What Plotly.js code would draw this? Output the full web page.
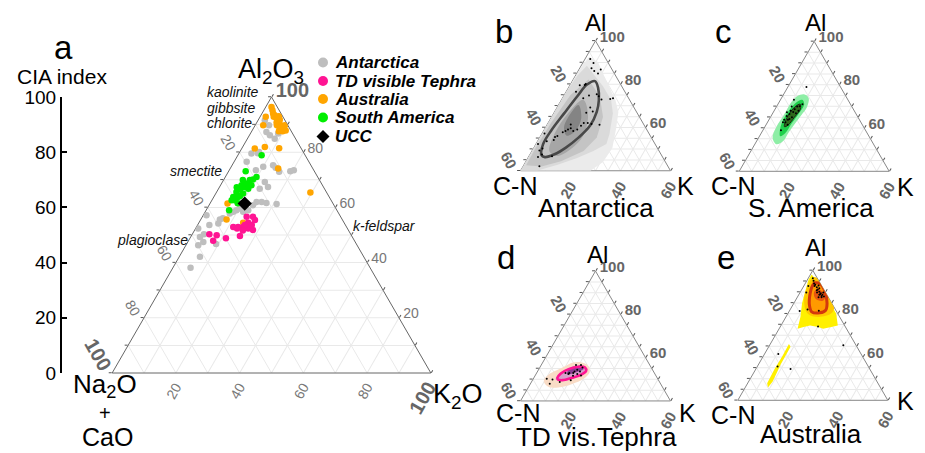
<!DOCTYPE html>
<html><head><meta charset="utf-8">
<script src="https://cdn.plot.ly/plotly-3.0.1.min.js"></script>
<style>html,body{margin:0;padding:0;background:#fff}#chart{width:925px;height:453px}</style>
</head><body><div id="chart"></div>
<script>
// ---------- DATA (ternary %: Al = Al2O3, CN = Na2O+CaO, K = K2O) ----------
const antAl = [91.6,89.8,87.3,86.1,84.9,86.8,80.1,79.5,76.5,73.5,74.7,75.3,74.4,72.9,73.1,73.5,69.2,67.4,66.8,62.0,62.0,61.6,61.2,60.8,59.0,61.4,59.0,58.4,57.8,57.2,55.6,54.2,56.1,53.6,52.4,50.3,49.3,47.5,46.3,46.7,42.1,38.1,79.6,59.6,58.4];
const antCN = [6.3,5.9,7.95,7.45,6.55,4.5,13.85,16.55,19.55,18.15,15.25,11.85,11.5,11.15,7.55,6.25,17.5,17.4,20.3,23.7,22.1,20.8,17.8,25.4,27.8,29.2,31.5,32.8,34.2,41.8,38.4,39.6,37.2,42.7,46.8,46.05,47.8,47.65,49.85,44.05,51.4,56.35,14.5,30.1,29.7];
const antK  = [2.1,4.3,4.75,6.45,8.55,8.7,6.05,3.95,3.95,8.35,10.05,12.85,14.1,15.95,19.35,20.25,13.3,15.2,12.9,14.3,15.9,17.6,21.0,13.8,13.2,9.4,9.5,8.8,8.0,1.0,6.0,6.2,6.7,3.7,0.8,3.65,2.9,4.85,3.85,9.25,6.5,5.55,5.9,10.3,11.9];

const ausAl = [96.4,95.2,94.0,93.4,92.8,92.2,91.2,90.1,89.4,88.7,87.9,88.7,89.8,87.6,89.8,87.6,92.8,89.8,81.3,81.9,81.4,74.1,65.4,61.4,55.6,54.4,90.8,89.0,88.2,91.8,93.0];
const ausCN = [1.8,2.1,2.5,2.3,2.9,2.3,2.4,2.35,2.1,1.8,1.6,3.05,3.4,2.7,0.9,3.9,5.4,7.7,14.6,11.15,6.9,10.85,5.1,33.1,36.3,31.7,3.0,2.6,2.4,1.5,1.2];
const ausK  = [1.8,2.7,3.5,4.3,4.3,5.5,6.4,7.55,8.5,9.5,10.5,8.25,6.8,9.7,9.3,8.5,1.8,2.5,4.1,6.95,11.7,15.05,29.5,5.5,8.1,13.9,6.2,8.4,9.4,6.7,5.8];

const saAl = [78.9,73.1,71.0,70.1,68.7,67.4,68.0,66.5,66.8,68.0,65.6,63.8,63.8,62.6,62.6,59.0,65.0,69.9,69.9,67.3,64.1,61.5];
const saCN = [13.65,21.55,19.2,20.75,23.45,24.7,25.4,26.65,23.9,22.3,28.2,30.1,28.6,30.2,31.2,33.8,26.4,21.85,24.05,27.25,27.85,29.85];
const saK  = [7.45,5.35,9.8,9.15,7.85,7.9,6.6,6.85,9.3,9.7,6.2,6.1,7.6,7.2,6.2,7.2,8.6,8.25,6.05,5.45,8.05,8.65];

const tdAl = [56.6,56.6,55.4,54.4,52.9,52.9,52.9,52.4,52.4,51.8,49.6,48.8,49.9,50.3,47.9,53.6,53.6,51.6];
const tdCN = [29.5,27.5,27.5,30.1,32.45,34.05,35.55,34.6,31.1,29.9,35.1,39.9,42.25,44.35,44.35,31.6,29.4,33.2];
const tdK  = [13.9,15.9,17.1,15.5,14.65,13.05,11.55,13.0,16.5,18.3,15.3,11.3,7.85,5.35,7.75,14.8,17.0,15.2];

const uccAl = [61.4], uccCN = [27.7], uccK = [10.9];

const antDens1 = [[92.6,1.2],[90.2,5.9],[82.2,13.0],[72.7,21.6],[67.1,25.6],[59.5,28.5],[50.5,31.5],[44,31],[40,28],[40,0],[80,0],[88,0.3]];
const antDens2 = [[88.5,2.3],[79,13.5],[72.7,19.9],[66.5,23.7],[57,27.1],[52.3,28.2],[49.1,24.6],[45.9,19.7],[42.8,13.5],[40,6.5],[40,0],[76,0],[84,0.8]];
const antDens3 = [[82.2,6.1],[74.3,14.6],[64.8,20.6],[55.4,22.8],[49.1,20.7],[44.4,14],[42,7.4],[42.5,1],[50,0.8],[62,1.2],[75,2.5]];
const antDens4 = [[72.7,8.8],[65.6,14.2],[56.2,17],[50.1,15.1],[46.8,10.9],[49.1,7],[58.6,5],[68,6.1]];
const antDens5 = [[70.4,8],[64.2,12.2],[58.6,12.8],[56.2,10.4],[60,7.4],[66.6,6.8]];
const antLine  = [[81.4,9.1],[78.3,11.9],[72.7,15.0],[67.2,16.9],[60.9,17.4],[55.4,15.6],[50.7,12.8],[47.6,9.8],[46.3,6.6],[47.2,4.8],[52.3,2.9],[58.6,3.0],[66.5,4.2],[74.3,5.5],[79.8,6.7]];

const saDens1 = [[52.5,8.6],[55.5,5.6],[60.5,4.6],[66.0,4.9],[71.4,4.9],[74.8,5.9],[75.5,8.4],[73.8,10.9],[69.6,12.3],[66.0,11.9],[62.1,11.3],[58.2,10.8],[54.0,10.6]];
const saDens2 = [[56.2,8.3],[60.8,6.2],[66.5,5.7],[71.6,6.8],[73.0,8.7],[71.0,10.5],[66.4,10.5],[62.0,9.9],[57.6,9.6]];
const saDens3 = [[60.6,7.8],[64.8,6.7],[69.7,7.4],[71.0,8.9],[68.8,10.1],[65.0,9.6],[61.4,8.9]];

const tdDens1 = [[50.9,4.6],[48.9,4.9],[46.6,7.8],[46.2,12.0],[47.8,16.8],[50.2,20.1],[53.3,21.0],[56.4,18.8],[57.9,15.2],[57.6,11.8],[55.9,9.7],[54.1,7.2],[52.5,5.3]];
const tdDens2 = [[49.95,9.1],[49.15,12.1],[50.4,16.0],[52.3,18.4],[54.7,18.5],[56.25,16.4],[56.25,13.8],[54.7,11.3],[52.3,9.2]];
const tdDens3 = [[52.3,12.5],[53.1,15.4],[54.7,17.9],[56.25,16.55],[55.8,14.0],[54.4,12.0]];
const tdLine  = [[50.7,9.4],[52.6,9.7],[54.7,11.9],[55.8,15.3],[55.45,18.1],[53.9,19.3],[52.3,18.4],[50.7,15.3],[49.6,11.9],[49.95,10.0]];

const ausDens1 = [[98.1,0.5],[93.4,6.1],[86.4,12.9],[80.1,19.3],[74.6,22.7],[73.8,20.5],[73.0,17.6],[73.8,15.3],[74.6,11.6],[73.8,9.4],[73.0,7.4],[78.5,5.8],[84.8,3.3],[90.3,1.8],[95.8,0.4]];
const ausDens1b = [[66.0,7.45],[64.7,8.75],[56.6,8.9],[48.7,9.6],[45.9,9.1],[47.9,7.8],[54.2,7.5],[60.5,7.6]];
const ausDens2 = [[97,2],[92,9.5],[86,15.5],[80.5,17.5],[78.5,13],[80,8],[86,3.5],[93,1.5]];
const ausDens3 = [[95.4,2.9],[91.1,8.6],[85.5,13.3],[81.6,14.9],[80.1,12.8],[81.6,8.8],[87.9,4.7],[92.6,2.9]];
const ausDens4 = [[91.5,6.5],[88,11],[86,11],[87,7.5],[90,5.5]];
const ausLine  = [[94.2,3.8],[93.9,5.9],[90.3,9.7],[84.8,13.3],[81.6,14.35],[80.4,12.6],[80.85,9.15],[84.0,6.65],[89.5,4.2],[92.9,3.4]];

// tick labels
const B100 = '<b><span style="font-size:20px;color:#666">100</span></b>';
const mainVals = [0,10,20,30,40,50,60,70,80,90,100];
const mainText = [B100,'','80','','60','','40','','20','',''];
const smallAVals = [40,45,50,55,60,65,70,75,80,85,90,95,100];
const smallAText = ['60','','','','40','','','','20','','','',''];
const smallBVals = [0,5,10,15,20,25,30,35,40,45,50,55,60];
const smallBText = ['60','','','','40','','','','20','','','',''];
const smallCVals = [0,5,10,15,20,25,30,35,40,45,50,55,60];
const smallCText = ['100','','','','80','','','','60','','','',''];
const ciaVals = [0,20,40,60,80,100];

const legendNames = ['Antarctica','TD visible Tephra','Australia','South America','UCC'];
const legendColors = ['#bebebe','#ff1493','#ffa500','#00ee00','#000000'];

// ---------- helpers ----------
const W = 925, H = 453;
const px = x => x / W, py = y => 1 - y / H;
const FONT = 'Liberation Sans, Arial, sans-serif';

function pts(al, cn, k, subplot, color, size, symbol) {
  return {type:'scatterternary', subplot, a: al, b: cn, c: k, mode:'markers',
    marker:{color, size, symbol: symbol || 'circle', line:{width:0}}, hoverinfo:'a+b+c', showlegend:false};
}
function poly(p, subplot, fill, lineColor, lineWidth, smooth) {
  const a = p.map(v => v[0]), c = p.map(v => v[1]), b = p.map(v => 100 - v[0] - v[1]);
  a.push(a[0]); b.push(b[0]); c.push(c[0]);
  return {type:'scatterternary', subplot, a, b, c, mode:'lines',
    fill: fill ? 'toself' : 'none', fillcolor: fill || 'rgba(0,0,0,0)',
    line:{color: lineColor || 'rgba(0,0,0,0)', width: lineWidth || 0, shape: smooth ? 'spline' : 'linear'},
    hoverinfo:'skip', showlegend:false};
}
function axis(vals, text, angle, font, min, lineColor, ticks) {
  return {min, tickmode:'array', tickvals: vals, ticktext: text, tickangle: angle,
    ticks: ticks, ticklen:3, tickcolor:'#555', tickwidth:1,
    showline:true, linecolor: lineColor, linewidth:1,
    showgrid:true, gridcolor:'#e9e9e9', gridwidth:1,
    tickfont: font, title:{text:''}, layer:'below traces'};
}
const mainFont = {family: FONT, size:14, color:'#777'};
const smallFont = {family: FONT, size:15, color:'#666', weight:'bold'};
function mainTern(domain) {
  return {domain, sum:100, bgcolor:'rgba(0,0,0,0)',
    aaxis: axis(mainVals, mainText, 60, mainFont, 0, '#666', 'outside'),
    baxis: axis(mainVals, mainText, -60, mainFont, 0, '#666', ''),
    caxis: axis(mainVals, mainText, 0, mainFont, 0, '#666', 'outside')};
}
function smallTern(domain) {
  return {domain, sum:100, bgcolor:'rgba(0,0,0,0)',
    aaxis: axis(smallAVals, smallAText, 60, smallFont, 40, '#888', 'outside'),
    baxis: axis(smallBVals, smallBText, -60, smallFont, 0, '#888', ''),
    caxis: axis(smallCVals, smallCText, 0, smallFont, 0, '#888', 'outside')};
}

// ---------- traces ----------
const traces = [
  {type:'scatter', x:[], y:[], xaxis:'x', yaxis:'y', showlegend:false, hoverinfo:'skip'},
  // panel a
  pts(antAl, antCN, antK, 'ternary', '#bebebe', 6.5),
  pts(ausAl, ausCN, ausK, 'ternary', '#ffa500', 6.5),
  pts(saAl, saCN, saK, 'ternary', '#00ee00', 6.5),
  pts(tdAl, tdCN, tdK, 'ternary', '#ff1493', 6.5),
  pts(uccAl, uccCN, uccK, 'ternary', '#000000', 11, 'diamond'),
  // panel b
  poly(antDens1, 'ternary2', '#ebebeb'),
  poly(antDens2, 'ternary2', '#dadada'),
  poly(antDens3, 'ternary2', '#c4c4c4'),
  poly(antDens4, 'ternary2', '#a6a6a6', null, 0, true),
  poly(antDens5, 'ternary2', '#848484', null, 0, true),
  poly(antLine, 'ternary2', null, '#484848', 2.6, true),
  pts(antAl, antCN, antK, 'ternary2', '#000000', 2),
  // panel c
  poly(saDens1, 'ternary3', '#8eeea6', null, 0, true),
  poly(saDens2, 'ternary3', '#1fd04c', null, 0, true),
  poly(saDens3, 'ternary3', '#2e6a1c', '#1c2a14', 1, true),
  pts(saAl, saCN, saK, 'ternary3', '#000000', 2),
  // panel d
  poly(tdDens1, 'ternary4', '#f9dcc6', null, 0, true),
  poly(tdDens2, 'ternary4', '#d7a0cc', null, 0, true),
  poly(tdDens3, 'ternary4', '#8a3f93', null, 0, true),
  poly(tdLine, 'ternary4', null, '#ff1493', 2.6, true),
  pts(tdAl, tdCN, tdK, 'ternary4', '#000000', 2),
  // panel e
  poly(ausDens1, 'ternary5', '#fff000'),
  poly(ausDens1b, 'ternary5', '#fff000'),
  poly(ausDens2, 'ternary5', '#ffc800', null, 0, true),
  poly(ausDens3, 'ternary5', '#ff9a00', null, 0, true),
  poly(ausDens4, 'ternary5', '#e8560f', null, 0, true),
  poly(ausLine, 'ternary5', null, '#d4380c', 3, true),
  pts(ausAl, ausCN, ausK, 'ternary5', '#000000', 2)
];

// ---------- annotations ----------
function ann(text, x, y, size, o) {
  return Object.assign({text, x:px(x), y:py(y), xref:'paper', yref:'paper', showarrow:false,
    xanchor:'center', yanchor:'middle', font:{family:FONT, size, color:'#000'}}, o || {});
}
const it = (t, x, y, anchor) => ann(t, x, y, 14, {xanchor: anchor || 'left', font:{family:FONT, size:14, color:'#111', style:'italic'}});
const annotations = [
  ann('a', 63.5, 48, 33),
  ann('CIA index', 62, 76.5, 21),
  ann('Al<sub>2</sub>O<sub>3</sub>', 271, 71, 27),
  ann('Na<sub>2</sub>O', 105, 385.5, 26),
  ann('+', 105, 413, 20),
  ann('CaO', 107.5, 453, 25, {yanchor:'bottom'}),
  ann('K<sub>2</sub>O', 458, 396, 27),
  it('kaolinite', 205, 91.5), it('gibbsite', 205, 107.5), it('chlorite', 205, 123.5),
  it('smectite', 168, 171), it('plagioclase', 115, 239.5), it('k-feldspar', 350.5, 225.7),
  // panel b
  ann('b', 504, 31, 33), ann('Al', 595.5, 22.5, 24), ann('C-N', 515, 186, 25), ann('K', 685, 186, 25), ann('Antarctica', 595.5, 208, 26),
  // panel c
  ann('c', 723.5, 31, 33), ann('Al', 815, 22, 24), ann('C-N', 733, 186, 25), ann('K', 905, 187, 25), ann('S. America', 810.5, 208, 26),
  // panel d
  ann('d', 506, 257, 33), ann('Al', 597, 254, 24), ann('C-N', 517.5, 413, 25), ann('K', 687, 413, 25), ann('TD vis.Tephra', 596, 437, 26),
  // panel e
  ann('e', 726, 257, 33), ann('Al', 815, 247.5, 24), ann('C-N', 732.5, 415, 25), ann('K', 905, 401, 25), ann('Australia', 810.5, 434, 26)
];
// manual legend
const legY = [62.5, 81, 99, 117.5, 136.5];
const shapes = [];
legendNames.forEach((name, i) => {
  annotations.push(ann(name, 333, legY[i], 17, {xanchor:'left', font:{family:FONT, size:17, color:'#000', weight:'bold', style:'italic'}}));
  if (i < 4) {
    shapes.push({type:'circle', xref:'paper', yref:'paper', x0:px(318), x1:px(328), y0:py(legY[i]+5), y1:py(legY[i]-5),
      fillcolor: legendColors[i], line:{width:0}});
  } else {
    const cx = 323, cy = legY[i], r = 6.5;
    shapes.push({type:'path', xref:'paper', yref:'paper', fillcolor: legendColors[i], line:{width:0},
      path:`M ${px(cx)} ${py(cy-r)} L ${px(cx+r)} ${py(cy)} L ${px(cx)} ${py(cy+r)} L ${px(cx-r)} ${py(cy)} Z`});
  }
});

const layout = {
  width: W, height: H, margin:{l:0, r:0, t:0, b:0},
  paper_bgcolor:'#fff', plot_bgcolor:'rgba(0,0,0,0)', showlegend:false,
  font:{family: FONT},
  xaxis:{domain:[px(62), px(100)], range:[0,1], visible:false, fixedrange:true},
  yaxis:{domain:[py(373), py(97)], range:[0,100], anchor:'free', position:px(61), side:'left',
    tickmode:'array', tickvals: ciaVals, ticks:'inside', ticklen:5, tickwidth:2, tickcolor:'#000',
    showline:true, linewidth:2, linecolor:'#000', showgrid:false, zeroline:false,
    tickfont:{family:FONT, size:19, color:'#000'}, fixedrange:true},
  ternary: mainTern({x:[px(112), px(431)], y:[py(373), py(97)]}),
  ternary2: smallTern({x:[px(520.5), px(670.5)], y:[py(170.75), py(40.85)]}),
  ternary3: smallTern({x:[px(739.2), px(889.2)], y:[py(171.3), py(41.4)]}),
  ternary4: smallTern({x:[px(520.5), px(670.5)], y:[py(400.95), py(271.05)]}),
  ternary5: smallTern({x:[px(737.8), px(887.8)], y:[py(400.3), py(270.4)]}),
  annotations, shapes
};
Plotly.newPlot('chart', traces, layout, {displayModeBar:false, staticPlot:true});
</script></body></html>
